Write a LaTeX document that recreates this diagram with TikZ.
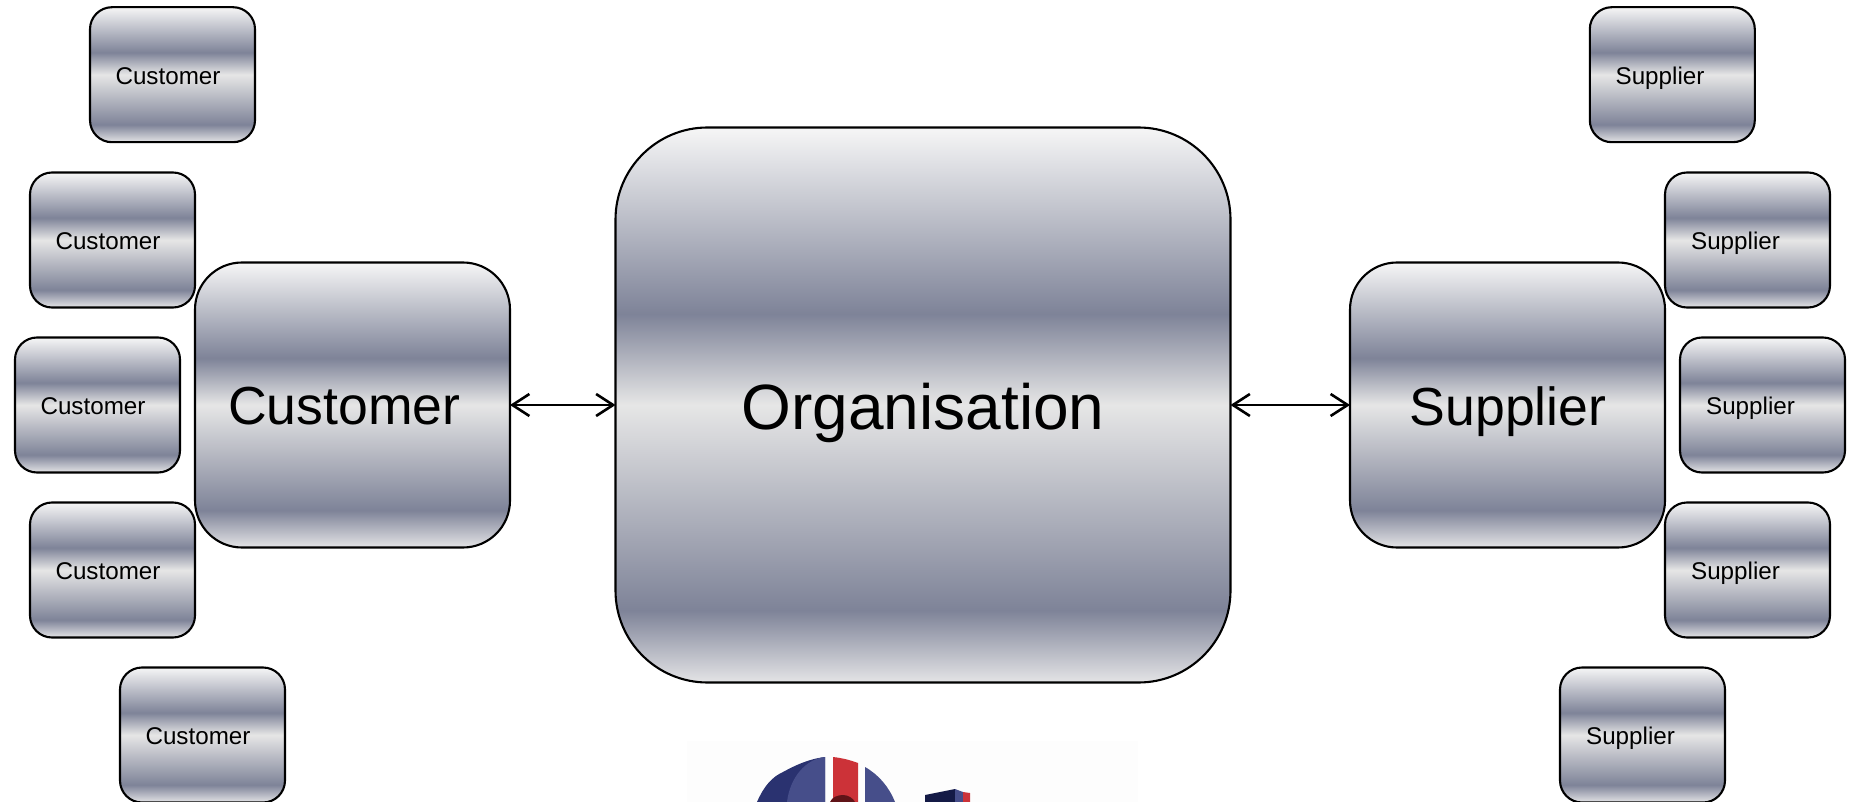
\documentclass[tikz,border=0pt]{standalone}
\usepackage{fontspec}
\setmainfont{Liberation Sans}
\usetikzlibrary{arrows.meta}
\definecolor{mtop}{RGB}{246,246,246}
\definecolor{mdark}{RGB}{126,131,152}
\definecolor{mmid}{RGB}{230,230,230}
\definecolor{mbot}{RGB}{228,228,230}
\definecolor{logoblue}{RGB}{70,78,138}
\definecolor{logodark}{RGB}{42,50,112}
\definecolor{logored}{RGB}{204,50,56}
\definecolor{logonavy}{RGB}{20,26,70}
\definecolor{logomaroon}{RGB}{96,20,24}
\definecolor{logopaper}{RGB}{253,253,253}
\pgfdeclareverticalshading{metal}{100bp}{color(0bp)=(mbot);color(25bp)=(mbot);color(31.5bp)=(mdark);color(50bp)=(mmid);color(58.2bp)=(mdark);color(75bp)=(mtop);color(100bp)=(mtop)}
\tikzset{
  box/.style={draw=black,line width=2.1pt,shade,shading=metal,inner sep=0pt,outer sep=0pt},
  smallbox/.style={box,minimum width=165pt,minimum height=135pt,rounded corners=22pt},
  midbox/.style={box,minimum width=315pt,minimum height=285pt,rounded corners=47pt},
  orgbox/.style={box,minimum width=615pt,minimum height=555pt,rounded corners=92pt},
  smalltext/.style={font=\fontsize{24.2}{28}\selectfont,inner sep=0pt},
  midtext/.style={font=\fontsize{53.6}{60}\selectfont,inner sep=0pt},
  orgtext/.style={font=\fontsize{64}{70}\selectfont,inner sep=0pt},
  link/.style={draw=black,line width=2.4pt,{Straight Barb[length=17pt,width=22pt,line width=2.6pt]}-{Straight Barb[length=17pt,width=22pt,line width=2.6pt]}}
}
\begin{document}
\begin{tikzpicture}[x=1pt,y=-1pt]
\useasboundingbox (0,0) rectangle (1853,802);
\fill[white] (0,0) rectangle (1853,802);
% logo, cut off by the lower edge
\fill[logopaper] (687,741) rectangle (1138,802);
\fill[logodark] (757,802) .. controls (764,786) and (772,777) .. (783,772) .. controls (794,766) and (808,759) .. (825,757) -- (825,802) -- cycle;
\fill[logoblue] (825,757) .. controls (806,759) and (790,777) .. (787,802) -- (825,802) -- cycle;
\fill[logored] (833,757) .. controls (842,758) and (850,760) .. (858,763) -- (858,802) -- (833,802) -- cycle;
\fill[logomaroon] (830,802) .. controls (832,797) and (838,795) .. (843,795) .. controls (848,795) and (853,798) .. (855,802) -- cycle;
\fill[logoblue] (865,767) .. controls (879,775) and (889,787) .. (895,802) -- (865,802) -- cycle;
\fill[logonavy] (925,795) -- (955,789) -- (955,802) -- (925,802) -- cycle;
\fill[logoblue] (955,789) -- (963,792) -- (963,802) -- (955,802) -- cycle;
\fill[logored] (963,792) -- (970,793) -- (970,802) -- (963,802) -- cycle;
% small boxes
\node[smallbox] (c1) at (172.5,74.7) {};
\node[smallbox] (c2) at (112.5,240) {};
\node[smallbox] (c3) at (97.5,405) {};
\node[smallbox] (c4) at (112.5,570) {};
\node[smallbox] (c5) at (202.5,735) {};
\node[smallbox] (s1) at (1672.3,74.7) {};
\node[smallbox] (s2) at (1747.5,240) {};
\node[smallbox] (s3) at (1762.5,405) {};
\node[smallbox] (s4) at (1747.5,570) {};
\node[smallbox] (s5) at (1642.5,735) {};
% main boxes
\node[midbox] (cust) at (352.5,405) {};
\node[midbox] (supp) at (1507.5,405) {};
\node[orgbox] (org) at (923,405) {};
\node[orgtext] (orgl) at (923,413) {Organisation};
% labels
\node[midtext] (custl) at (344.3,406.5) {Customer};
\node[midtext] (suppl) at (1508,412) {Supplier};
\node[smalltext] (c1l) at (168,76.5) {Customer};
\node[smalltext] (c2l) at (108,241.5) {Customer};
\node[smalltext] (c3l) at (93,406.5) {Customer};
\node[smalltext] (c4l) at (108,571.5) {Customer};
\node[smalltext] (c5l) at (198,736.5) {Customer};
\node[smalltext] (s1l) at (1660,78.5) {Supplier};
\node[smalltext] (s2l) at (1735.5,243.5) {Supplier};
\node[smalltext] (s3l) at (1750.5,408.5) {Supplier};
\node[smalltext] (s4l) at (1735.5,573.5) {Supplier};
\node[smalltext] (s5l) at (1630.5,738.5) {Supplier};
% connectors
\draw[link] (cust.east) -- (org.west);
\draw[link] (org.east) -- (supp.west);
\end{tikzpicture}
\end{document}
